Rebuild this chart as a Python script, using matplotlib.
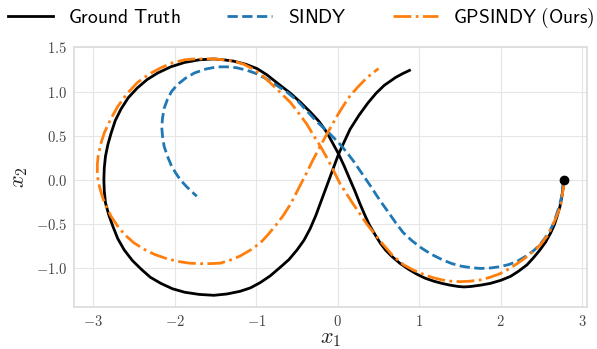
import matplotlib
matplotlib.use('Agg')
import matplotlib.pyplot as plt
from matplotlib.ticker import FuncFormatter

plt.rcParams['mathtext.fontset'] = 'cm'

gt_x1 = [2.77, 2.765, 2.75, 2.725, 2.69, 2.655, 2.61, 2.55, 2.48, 2.40, 2.32,
         2.22, 2.12, 2.00, 1.87, 1.75, 1.63, 1.55, 1.48, 1.38, 1.28, 1.18,
         1.07, 0.97, 0.87, 0.76, 0.66, 0.585, 0.52, 0.46, 0.39, 0.33, 0.27,
         0.21, 0.14, 0.08, 0.01, -0.06, -0.13, -0.23, -0.34, -0.46, -0.58,
         -0.72, -0.87, -0.99, -1.13, -1.28, -1.40, -1.52, -1.70, -1.88, -2.05,
         -2.21, -2.34, -2.46, -2.57, -2.66, -2.73, -2.78, -2.82, -2.85, -2.865,
         -2.87, -2.865, -2.85, -2.81, -2.76, -2.70, -2.62, -2.52, -2.41, -2.30,
         -2.17, -2.03, -1.88, -1.70, -1.52, -1.36, -1.20, -1.07, -0.95, -0.83,
         -0.71, -0.60, -0.50, -0.415, -0.34, -0.27, -0.21, -0.15, -0.09, -0.04,
         0.01, 0.08, 0.15, 0.26, 0.37, 0.47, 0.57, 0.71, 0.80, 0.88]
gt_x2 = [0.00, -0.09, -0.19, -0.31, -0.42, -0.52, -0.61, -0.71, -0.80, -0.89,
         -0.97, -1.04, -1.10, -1.145, -1.18, -1.20, -1.215, -1.22, -1.215,
         -1.20, -1.18, -1.155, -1.12, -1.075, -1.02, -0.95, -0.87, -0.80,
         -0.72, -0.63, -0.52, -0.40, -0.27, -0.13, 0.02, 0.15, 0.29, 0.41,
         0.53, 0.66, 0.77, 0.88, 0.98, 1.08, 1.19, 1.26, 1.31, 1.345, 1.36,
         1.37, 1.36, 1.33, 1.28, 1.21, 1.135, 1.04, 0.93, 0.80, 0.67, 0.53,
         0.40, 0.265, 0.13, 0.0, -0.13, -0.265, -0.40, -0.53, -0.67, -0.80,
         -0.92, -1.02, -1.11, -1.18, -1.24, -1.28, -1.305, -1.315, -1.30,
         -1.27, -1.23, -1.17, -1.095, -1.00, -0.91, -0.80, -0.69, -0.56,
         -0.41, -0.26, -0.11, 0.04, 0.165, 0.29, 0.43, 0.57, 0.73, 0.87, 0.98,
         1.07, 1.16, 1.205, 1.24]

# SINDY prediction
sindy_x1 = [2.77, 2.76, 2.75, 2.73, 2.69, 2.65, 2.60, 2.53, 2.47, 2.40, 2.30,
            2.20, 2.10, 1.99, 1.87, 1.75, 1.63, 1.52, 1.40, 1.28, 1.15, 1.03,
            0.91, 0.80, 0.71, 0.62, 0.55, 0.48, 0.41, 0.34, 0.27, 0.20, 0.11,
            0.01, -0.12, -0.26, -0.38, -0.50, -0.62, -0.75, -0.87, -0.99, -1.11,
            -1.24, -1.36, -1.48, -1.62, -1.76, -1.87, -1.965, -2.04, -2.09,
            -2.13, -2.15, -2.16, -2.15, -2.13, -2.09, -2.045, -1.99, -1.93,
            -1.86, -1.795, -1.73]
sindy_x2 = [0.00, -0.08, -0.17, -0.265, -0.38, -0.49, -0.59, -0.68, -0.75,
            -0.81, -0.875, -0.93, -0.965, -0.99, -1.005, -1.01, -1.00, -0.985,
            -0.955, -0.91, -0.85, -0.78, -0.695, -0.60, -0.49, -0.37, -0.28,
            -0.185, -0.085, 0.01, 0.105, 0.20, 0.31, 0.42, 0.54, 0.66, 0.78,
            0.90, 0.99, 1.07, 1.14, 1.20, 1.24, 1.27, 1.28, 1.28, 1.255, 1.21,
            1.15, 1.08, 1.00, 0.91, 0.81, 0.70, 0.595, 0.49, 0.375, 0.265,
            0.165, 0.076, -0.005, -0.076, -0.135, -0.19]

# GPSINDY prediction
gps_x1 = [2.77, 2.77, 2.755, 2.74, 2.71, 2.67, 2.62, 2.57, 2.50, 2.42, 2.33,
          2.24, 2.12, 1.99, 1.87, 1.75, 1.62, 1.50, 1.39, 1.28, 1.17, 1.06,
          0.93, 0.81, 0.67, 0.54, 0.45, 0.36, 0.275, 0.19, 0.11, 0.03, -0.03,
          -0.09, -0.15, -0.215, -0.30, -0.38, -0.48, -0.58, -0.69, -0.79,
          -0.91, -1.03, -1.155, -1.28, -1.40, -1.52, -1.64, -1.76, -1.88,
          -2.03, -2.17, -2.32, -2.46, -2.59, -2.70, -2.79, -2.865, -2.91,
          -2.94, -2.95, -2.95, -2.94, -2.915, -2.885, -2.845, -2.78, -2.70,
          -2.61, -2.50, -2.38, -2.25, -2.11, -1.965, -1.82, -1.68, -1.56,
          -1.44, -1.32, -1.20, -1.07, -0.95, -0.86, -0.77, -0.67, -0.58, -0.48,
          -0.38, -0.30, -0.215, -0.11, -0.01, 0.07, 0.15, 0.245, 0.34, 0.42,
          0.50]
gps_x2 = [0.00, -0.08, -0.17, -0.265, -0.36, -0.45, -0.55, -0.64, -0.725,
          -0.80, -0.87, -0.93, -1.005, -1.07, -1.11, -1.14, -1.155, -1.16,
          -1.155, -1.14, -1.115, -1.08, -1.03, -0.97, -0.86, -0.72, -0.615,
          -0.51, -0.395, -0.28, -0.165, -0.05, 0.06, 0.17, 0.275, 0.38, 0.505,
          0.63, 0.755, 0.875, 0.975, 1.065, 1.17, 1.25, 1.31, 1.345, 1.36,
          1.37, 1.37, 1.37, 1.36, 1.325, 1.27, 1.195, 1.10, 0.97, 0.83, 0.68,
          0.53, 0.40, 0.265, 0.17, 0.076, -0.02, -0.11, -0.205, -0.30, -0.42,
          -0.53, -0.63, -0.72, -0.79, -0.85, -0.895, -0.93, -0.95, -0.955,
          -0.955, -0.95, -0.915, -0.87, -0.80, -0.72, -0.63, -0.53, -0.41,
          -0.28, -0.10, 0.08, 0.23, 0.38, 0.555, 0.72, 0.84, 0.95, 1.05, 1.14,
          1.205, 1.26]

fig = plt.figure(figsize=(5.97, 3.49), dpi=100)
ax = fig.add_axes([0.124, 0.120, 0.859, 0.745])

ax.plot(gt_x1, gt_x2, color='black', lw=2, label=r'$\mathsf{Ground\ Truth}$')
ax.plot(sindy_x1, sindy_x2, color='#1f77b4', lw=2, ls='--', label=r'$\mathsf{SINDY}$')
ax.plot(gps_x1, gps_x2, color='#ff7f0e', lw=2, ls='-.',
        label=r'$\mathsf{GPSINDY\ (Ours)}$')
ax.plot(gt_x1[0], gt_x2[0], 'o', color='black', ms=6, zorder=5)

ax.set_xticks([-3, -2, -1, 0, 1, 2, 3])
ax.set_yticks([-1.0, -0.5, 0.0, 0.5, 1.0, 1.5])
ax.xaxis.set_major_formatter(FuncFormatter(lambda v, p: '$%d$' % round(v)))
ax.yaxis.set_major_formatter(FuncFormatter(lambda v, p: '$%.1f$' % v))
ax.tick_params(length=0, labelsize=10.5, labelcolor='#444444', pad=5)

ax.grid(True, color='#e6e6e6', lw=0.8)
ax.set_axisbelow(True)
for s in ax.spines.values():
    s.set_color('#dddddd')
    s.set_linewidth(1.3)

ax.set_xlabel(r'$x_1$', fontsize=16, color='#222222', labelpad=0)
ax.set_ylabel(r'$x_2$', fontsize=16, color='#222222', labelpad=4)

fig.legend(loc='center', bbox_to_anchor=(0.505, 0.948), ncol=3, frameon=False,
           fontsize=14, handlelength=2.3, columnspacing=2.4, handletextpad=0.8)

fig.savefig('out.png', dpi=100)
